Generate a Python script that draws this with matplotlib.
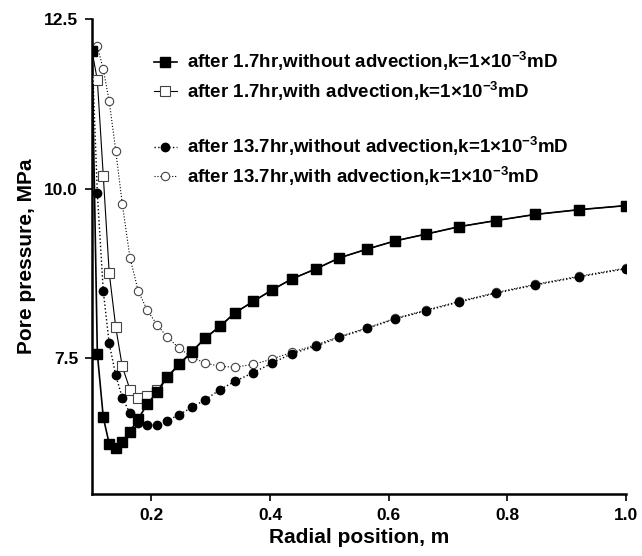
import numpy as np
import matplotlib
matplotlib.use("Agg")
import matplotlib.pyplot as plt

matplotlib.rcParams["font.family"] = ["Liberation Sans", "DejaVu Sans"]
matplotlib.rcParams["font.weight"] = "bold"
matplotlib.rcParams["mathtext.fontset"] = "custom"
matplotlib.rcParams["mathtext.rm"] = "Liberation Sans:bold"
matplotlib.rcParams["mathtext.bf"] = "Liberation Sans:bold"
matplotlib.rcParams["mathtext.it"] = "Liberation Sans:bold"

# radial positions (m)
radius = [0.100, 0.109, 0.119, 0.129, 0.140, 0.151, 0.164, 0.178, 0.193, 0.210,
          0.227, 0.247, 0.269, 0.291, 0.316, 0.341, 0.372, 0.404, 0.437, 0.478,
          0.517, 0.564, 0.611, 0.663, 0.719, 0.781, 0.847, 0.921, 1.000]

# pore pressure (MPa)
p_17_noadv = [12.03, 7.57, 6.63, 6.24, 6.18, 6.26, 6.42, 6.61, 6.82, 7.01,
              7.22, 7.41, 7.60, 7.80, 7.97, 8.17, 8.34, 8.51, 8.67, 8.82,
              8.98, 9.11, 9.23, 9.33, 9.44, 9.53, 9.62, 9.69, 9.75]
p_17_adv = [12.03, 11.60, 10.19, 8.76, 7.96, 7.38, 7.04, 6.91, 6.94, 7.03,
            7.23, 7.42, 7.61, 7.80, 7.98, 8.17, 8.34, 8.51, 8.67, 8.82,
            8.98, 9.11, 9.23, 9.33, 9.44, 9.53, 9.62, 9.69, 9.75]
p_137_noadv = [12.03, 9.93, 8.49, 7.72, 7.25, 6.92, 6.69, 6.55, 6.51, 6.52,
               6.58, 6.67, 6.78, 6.89, 7.04, 7.16, 7.29, 7.43, 7.57, 7.68,
               7.81, 7.94, 8.08, 8.20, 8.33, 8.46, 8.58, 8.70, 8.82]
p_137_adv = [12.03, 12.10, 11.76, 11.29, 10.56, 9.78, 8.98, 8.49, 8.21, 7.99,
             7.81, 7.65, 7.51, 7.43, 7.38, 7.37, 7.41, 7.49, 7.59, 7.70,
             7.82, 7.95, 8.09, 8.21, 8.34, 8.47, 8.59, 8.71, 8.83]

k_txt = r"k=1$\times$10$^{-3}$mD"
labels = ["after 1.7hr,without advection," + k_txt,
          "after 1.7hr,with advection," + k_txt,
          "after 13.7hr,without advection," + k_txt,
          "after 13.7hr,with advection," + k_txt]

fig = plt.figure(figsize=(6.42, 5.56), dpi=100)
ax = fig.add_axes([92 / 642, 1 - 494 / 556, 534 / 642, 475 / 556])

h1, = ax.plot(radius, p_17_noadv, "-", color="black", lw=1.2, marker="s",
              ms=6.5, mfc="black", mec="black", zorder=4)
h2, = ax.plot(radius, p_17_adv, "-", color="black", lw=0.8, marker="s",
              ms=6.5, mfc="white", mec="#444444", mew=0.8, zorder=3)
h3, = ax.plot(radius, p_137_noadv, ":", color="black", lw=1.0, marker="o",
              ms=6, mfc="black", mec="black", zorder=4)
h4, = ax.plot(radius, p_137_adv, ":", color="black", lw=0.8, marker="o",
              ms=6, mfc="white", mec="#444444", mew=0.8, zorder=2)

ax.set_xlim(0.1, 1.0)
ax.set_ylim(5.5, 12.5)
ax.set_xticks([0.2, 0.4, 0.6, 0.8, 1.0])
ax.set_xticklabels(["0.2", "0.4", "0.6", "0.8", "1.0"])
ax.set_yticks([7.5, 10.0, 12.5])
ax.set_yticklabels(["7.5", "10.0", "12.5"])
ax.tick_params(direction="out", length=5, width=1.2, labelsize=12.5, pad=5)
for s in ["top", "right"]:
    ax.spines[s].set_visible(False)
for s in ["left", "bottom"]:
    ax.spines[s].set_linewidth(1.8)

ax.set_xlabel("Radial position, m", fontsize=15, fontweight="bold", labelpad=4)
ax.set_ylabel("Pore pressure, MPa", fontsize=15, fontweight="bold", labelpad=6)

leg_kw = dict(loc="upper left", frameon=False, handlelength=1.2,
              handletextpad=0.55, borderpad=0, borderaxespad=0, labelspacing=0.35,
              prop={"weight": "bold", "size": 13.5})
leg1 = fig.legend([h1, h2], labels[:2], bbox_to_anchor=(154 / 642, 1 - 50 / 556), **leg_kw)
leg2 = fig.legend([h3, h4], labels[2:], bbox_to_anchor=(154 / 642, 1 - 135 / 556), **leg_kw)

fig.savefig("out.png", dpi=100)
